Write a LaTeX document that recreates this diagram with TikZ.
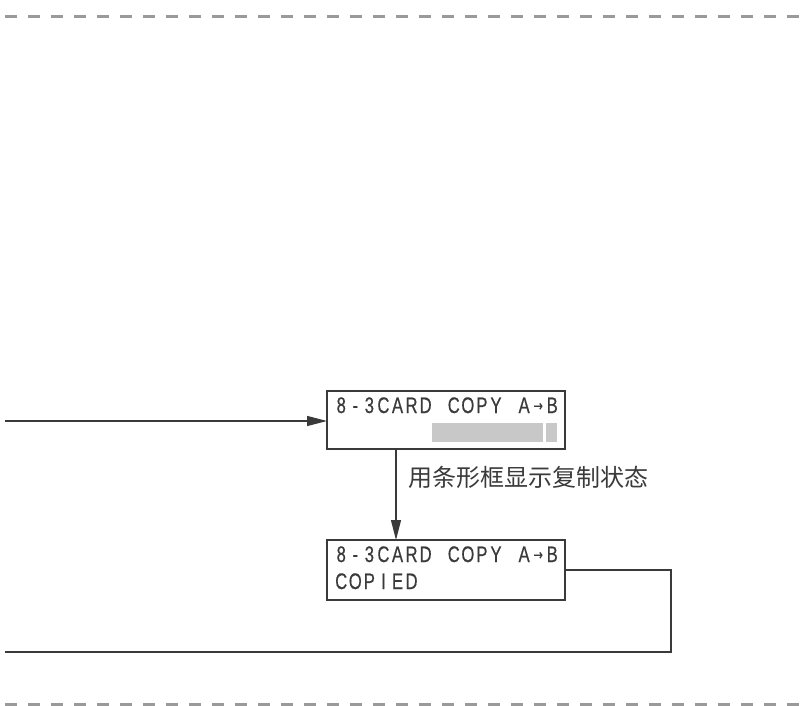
\documentclass[tikz,border=0pt]{standalone}
\usepackage{fontspec}
\usepackage{graphicx}
\setmainfont{Liberation Sans}
\newfontfamily\lcdfont[FakeBold=0.6]{Liberation Sans}
\newfontfamily\cjkfont{Noto Sans CJK SC}
\newfontfamily\symfont[FakeBold=0.6]{DejaVu Sans}
\usetikzlibrary{arrows.meta}
\definecolor{ink}{HTML}{3A3A3A}
\definecolor{barfill}{HTML}{C8C8C8}
\definecolor{dashgray}{HTML}{9A9A9A}
\newcommand\lc[1]{\makebox[14.07pt][c]{\scalebox{0.74}[1]{#1}}}
\newcommand\lcdarrow{\raisebox{2pt}{\fontsize{15pt}{15pt}\selectfont\symfont →}}
\tikzset{
  lcdbox/.style={draw=ink, line width=1.8pt, minimum width=238pt, inner sep=0pt, outer sep=0pt},
  lcdtext/.style={anchor=base west, inner sep=0pt, text=ink, font=\fontsize{22.5pt}{22.5pt}\lcdfont},
  conn/.style={draw=ink, line width=1.3pt},
  arr/.style={conn, -{Triangle[length=20pt,width=10pt]}},
  sep/.style={draw=dashgray, line width=3pt, dash pattern=on 12pt off 11pt},
  bar/.style={fill=barfill, draw=none},
  note/.style={anchor=west, inner sep=0pt, text=ink, font=\fontsize{24pt}{24pt}\selectfont\cjkfont}
}
\begin{document}
\begin{tikzpicture}[x=1pt,y=-1pt]
\useasboundingbox (0,0) rectangle (801,706);
% separators
\coordinate (t1) at (5,17); \coordinate (t2) at (801,17);
\coordinate (b1) at (5,704); \coordinate (b2) at (801,704);
\draw[sep] (t1) -- (t2);
\draw[sep] (b1) -- (b2);
% boxes
\node[lcdbox, minimum height=58pt] (box1) at (446,420) {};
\node[lcdbox, minimum height=60pt] (box2) at (446,570) {};
% box1 content
\node[lcdtext] (l1) at (334,413) {\lc8\lc-\lc3\lc C\lc A\lc R\lc D\lc{}\lc C\lc O\lc P\lc Y\lc{}\lc A\lc{\lcdarrow}\lc B};
\node[bar, minimum width=111pt, minimum height=19pt, inner sep=0pt] (bar1) at (487.5,432.5) {};
\node[bar, minimum width=11pt, minimum height=19pt, inner sep=0pt] (bar2) at (551.5,432.5) {};
% box2 content
\node[lcdtext] (l2) at (334,562) {\lc8\lc-\lc3\lc C\lc A\lc R\lc D\lc{}\lc C\lc O\lc P\lc Y\lc{}\lc A\lc{\lcdarrow}\lc B};
\node[lcdtext] (l3) at (334,589) {\lc C\lc O\lc P\lc I\lc E\lc D};
% connectors
\coordinate (in) at (5,421);
\draw[arr] (in) -- (in -| box1.west);
\coordinate (v) at (396,0);
\draw[arr] (box1.south -| v) -- (box2.north -| v);
\node[note] (lab) at (408,477) {用条形框显示复制状态};
\coordinate (r1) at (671,570);
\coordinate (r2) at (671,652);
\coordinate (r3) at (5,652);
\draw[conn] (box2.east) -- (r1) -- (r2) -- (r3);
\end{tikzpicture}
\end{document}
